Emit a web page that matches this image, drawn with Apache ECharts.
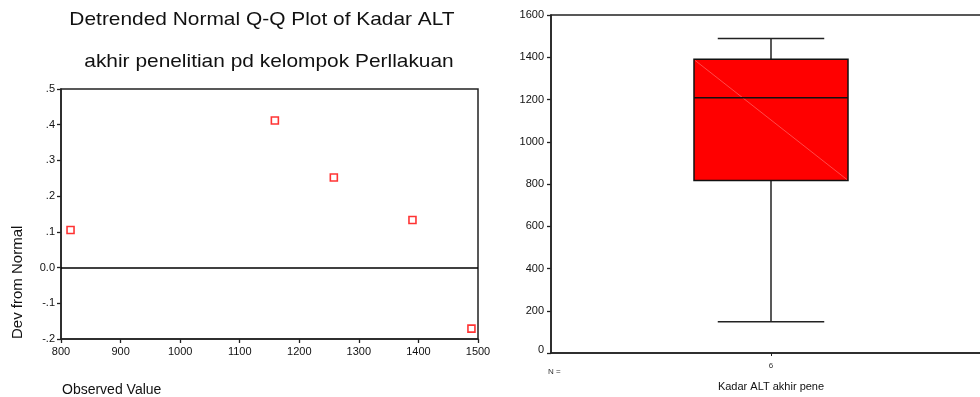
<!DOCTYPE html>
<html>
<head>
<meta charset="utf-8">
<script src="https://cdn.jsdelivr.net/npm/echarts@6/dist/echarts.min.js"></script>
<style>
  html, body { margin: 0; padding: 0; background: #fff; overflow: hidden; }
  #chart { width: 1000px; height: 397px; }
</style>
</head>
<body>
<div id="chart"></div>
<script>
// Detrended normal Q-Q values (observed value vs deviation from normal)
const observed = [816, 1159, 1258, 1390, 1489];
const devFromNormal = [0.105, 0.412, 0.252, 0.133, -0.171];

// Boxplot of the same variable: min, lower hinge, median, upper hinge, max
const boxCategories = ['6'];
const boxStats = [[148, 816, 1208.5, 1390, 1489]];

const qqXTicks = { min: 800, max: 1500, step: 100 };
const qqYTicks = { min: -0.2, max: 0.5, step: 0.1 };
const boxYTicks = { min: 0, max: 1600, step: 200 };

const FONT = '"Liberation Sans", Arial, sans-serif';
const AXIS_COLOR = '#222';

function devLabel(v) {
  const r = Math.round(v * 10);
  if (r === 0) return '0.0';
  return (r < 0 ? '-' : '') + '.' + Math.abs(r);
}

const chart = echarts.init(document.getElementById('chart'), null, { renderer: 'canvas' });

const titleText = (text, x, y) => ({
  type: 'text',
  x: x, y: y,
  scaleX: 1.1,
  style: {
    text: text,
    fontFamily: FONT, fontSize: 19, fill: '#111',
    align: 'center', verticalAlign: 'middle'
  }
});

const option = {
  animation: false,
  backgroundColor: '#fff',
  textStyle: { fontFamily: FONT },
  title: [
    {
      text: 'Observed Value',
      left: 57, top: 378,
      textStyle: { fontFamily: FONT, fontSize: 14, fontWeight: 'normal', color: '#111' }
    },
    {
      text: 'N =',
      left: 543, top: 363,
      textStyle: { fontFamily: FONT, fontSize: 8, fontWeight: 'normal', color: '#333' }
    }
  ],
  graphic: [
    titleText('Detrended Normal Q-Q Plot of Kadar ALT', 262, 20),
    titleText('akhir penelitian pd kelompok Perllakuan', 269, 62),
    {
      type: 'text',
      x: 18, y: 339,
      rotation: Math.PI / 2,
      style: {
        text: 'Dev from Normal',
        fontFamily: FONT, fontSize: 15, fill: '#111',
        align: 'left', verticalAlign: 'middle'
      }
    }
  ],
  grid: [
    {
      left: 61, top: 89, width: 417, height: 250,
      show: true, borderColor: AXIS_COLOR, borderWidth: 1.5, backgroundColor: 'transparent'
    },
    {
      left: 551, top: 15, width: 440, height: 344,
      show: true, borderColor: AXIS_COLOR, borderWidth: 1.5, backgroundColor: 'transparent'
    }
  ],
  xAxis: [
    {
      type: 'value', gridIndex: 0,
      min: qqXTicks.min, max: qqXTicks.max, interval: qqXTicks.step,
      axisLine: { show: true, onZero: false, lineStyle: { color: AXIS_COLOR, width: 1.5 } },
      axisTick: { show: true, length: 4, lineStyle: { color: AXIS_COLOR, width: 1.3 } },
      axisLabel: { fontFamily: FONT, fontSize: 11, color: '#111', margin: 7, formatter: v => String(v) },
      splitLine: { show: false }
    },
    {
      type: 'category', gridIndex: 1,
      data: boxCategories,
      name: 'Kadar ALT akhir pene',
      nameLocation: 'middle', nameGap: 28,
      nameTextStyle: { fontFamily: FONT, fontSize: 11, color: '#111' },
      axisLine: { show: true, onZero: false, lineStyle: { color: AXIS_COLOR, width: 1.5 } },
      axisTick: { show: true, alignWithLabel: true, length: 3, lineStyle: { color: AXIS_COLOR } },
      axisLabel: { fontFamily: FONT, fontSize: 8, color: '#333', margin: 9 },
      splitLine: { show: false }
    }
  ],
  yAxis: [
    {
      type: 'value', gridIndex: 0,
      min: qqYTicks.min, max: qqYTicks.max, interval: qqYTicks.step,
      axisLine: { show: true, onZero: false, lineStyle: { color: AXIS_COLOR, width: 1.5 } },
      axisTick: { show: true, length: 4, lineStyle: { color: AXIS_COLOR, width: 1.3 } },
      axisLabel: { fontFamily: FONT, fontSize: 11, color: '#111', margin: 6, formatter: devLabel },
      splitLine: { show: false }
    },
    {
      type: 'value', gridIndex: 1,
      min: boxYTicks.min, max: boxYTicks.max, interval: boxYTicks.step,
      axisLine: { show: true, onZero: false, lineStyle: { color: AXIS_COLOR, width: 1.5 } },
      axisTick: { show: true, length: 4, lineStyle: { color: AXIS_COLOR, width: 1.3 } },
      axisLabel: {
        fontFamily: FONT, fontSize: 11, color: '#111', margin: 7,
        formatter: function (v) { return v === 0 ? '{z|0}' : String(v); },
        rich: { z: { fontFamily: FONT, fontSize: 11, color: '#111', padding: [0, 0, 6, 0] } }
      },
      splitLine: { show: false }
    }
  ],
  series: [
    {
      type: 'scatter',
      xAxisIndex: 0, yAxisIndex: 0,
      data: observed.map((x, i) => [x, devFromNormal[i]]),
      symbol: 'rect',
      symbolSize: 7,
      itemStyle: { color: '#fff', borderColor: '#ff0000', borderWidth: 1.6 },
      markLine: {
        silent: true,
        symbol: ['none', 'none'],
        label: { show: false },
        lineStyle: { color: '#000', width: 1.5, type: 'solid' },
        data: [{ yAxis: 0 }]
      },
      z: 5
    },
    {
      type: 'custom',
      xAxisIndex: 1, yAxisIndex: 1,
      data: boxStats.map((s, i) => [i].concat(s)),
      renderItem: function (params, api) {
        const idx = api.value(0);
        const lo = api.coord([idx, api.value(1)]);
        const q1 = api.coord([idx, api.value(2)]);
        const med = api.coord([idx, api.value(3)]);
        const q3 = api.coord([idx, api.value(4)]);
        const hi = api.coord([idx, api.value(5)]);
        const band = api.size([1, 0])[0];
        const boxHalf = band * 0.175;
        const capHalf = band * 0.121;
        const cx = q1[0];
        const line = { stroke: '#222', lineWidth: 1.5 };
        return {
          type: 'group',
          children: [
            { type: 'line', shape: { x1: cx, y1: hi[1], x2: cx, y2: q3[1] }, style: line },
            { type: 'line', shape: { x1: cx, y1: lo[1], x2: cx, y2: q1[1] }, style: line },
            { type: 'line', shape: { x1: cx - capHalf, y1: hi[1], x2: cx + capHalf, y2: hi[1] }, style: line },
            { type: 'line', shape: { x1: cx - capHalf, y1: lo[1], x2: cx + capHalf, y2: lo[1] }, style: line },
            {
              type: 'rect',
              shape: { x: cx - boxHalf, y: q3[1], width: boxHalf * 2, height: q1[1] - q3[1] },
              style: { fill: '#ff0000', stroke: '#111', lineWidth: 1.5 }
            },
            {
              type: 'line',
              shape: { x1: cx - boxHalf + 1, y1: q3[1] + 1, x2: cx + boxHalf - 1, y2: q1[1] - 1 },
              style: { stroke: '#ff7a7a', lineWidth: 0.6 }
            },
            { type: 'line', shape: { x1: cx - boxHalf, y1: med[1], x2: cx + boxHalf, y2: med[1] }, style: { stroke: '#111', lineWidth: 1.5 } }
          ]
        };
      }
    }
  ]
};

chart.setOption(option);
</script>
</body>
</html>
